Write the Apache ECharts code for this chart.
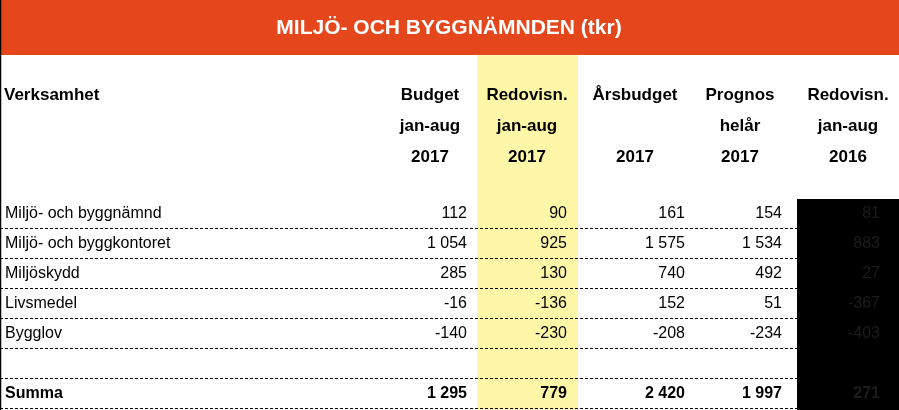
<!DOCTYPE html>
<html><head><meta charset="utf-8">
<script src="https://cdn.jsdelivr.net/npm/echarts@6/dist/echarts.min.js"></script>
<style>html,body{margin:0;padding:0;background:#fff}#c{width:899px;height:410px}</style>
</head><body><div id="c"></div>
<script>
const title = 'MILJÖ- OCH BYGGNÄMNDEN (tkr)';
const rowHeader = 'Verksamhet';
const colHeaders = [
  ['Budget','jan-aug','2017'],
  ['Redovisn.','jan-aug','2017'],
  ['Årsbudget','','2017'],
  ['Prognos','helår','2017'],
  ['Redovisn.','jan-aug','2016']
];
const categories = ['Miljö- och byggnämnd','Miljö- och byggkontoret','Miljöskydd','Livsmedel','Bygglov','','Summa'];
const budgetJanAug2017 = ['112','1 054','285','-16','-140','','1 295'];
const redovJanAug2017 = ['90','925','130','-136','-230','','779'];
const arsbudget2017 = ['161','1 575','740','152','-208','','2 420'];
const prognos2017 = ['154','1 534','492','51','-234','','1 997'];
const redovJanAug2016 = ['81','883','27','-367','-403','','271'];
const series = [budgetJanAug2017, redovJanAug2017, arsbudget2017, prognos2017, redovJanAug2016];

const colRight = [467, 567, 685, 782, 880];
const colCenter = [430, 527, 635, 740, 848];
const narrow = '"Liberation Sans Narrow","Arial Narrow","Liberation Sans",sans-serif';
const g = [];
g.push({type:'rect',shape:{x:0,y:0,width:899,height:55},style:{fill:'#E5461C'}});
g.push({type:'text',x:449,y:28,style:{text:title,fill:'#fff',font:'bold 21px '+narrow,align:'center',verticalAlign:'middle'}});
g.push({type:'rect',shape:{x:477,y:55,width:101,height:355},style:{fill:'#FFF7A8'}});
g.push({type:'rect',shape:{x:797,y:199,width:102,height:211},style:{fill:'#000'}});
g.push({type:'line',shape:{x1:0.5,y1:0,x2:0.5,y2:410},style:{stroke:'#000',lineWidth:1.5}});
g.push({type:'text',x:4,y:95,style:{text:rowHeader,fill:'#000',font:'bold 17px '+narrow,align:'left',verticalAlign:'middle'}});
colHeaders.forEach((h,i)=>h.forEach((t,j)=>{
  if(t) g.push({type:'text',x:colCenter[i],y:95+j*31,style:{text:t,fill:'#000',font:'bold 17px '+narrow,align:'center',verticalAlign:'middle'}});
}));
categories.forEach((c,r)=>{
  const yc = 214 + r*30;
  const bold = r===categories.length-1;
  const font = (bold?'bold ':'')+'16px "Liberation Sans",Arial,sans-serif';
  g.push({type:'text',x:5,y:yc,style:{text:c,fill:'#000',font,align:'left',verticalAlign:'middle'}});
  series.forEach((s,i)=>{
    g.push({type:'text',x:colRight[i],y:yc,style:{text:s[r],fill:i===4?'#1c1c1c':'#000',font,align:'right',verticalAlign:'middle'}});
  });
  g.push({type:'line',shape:{x1:0,y1:228.5+r*30,x2:899,y2:228.5+r*30},style:{stroke:'#000',lineWidth:1,lineDash:[3,2]}});
});
const chart = echarts.init(document.getElementById('c'));
chart.setOption({animation:false,graphic:g});
</script></body></html>
